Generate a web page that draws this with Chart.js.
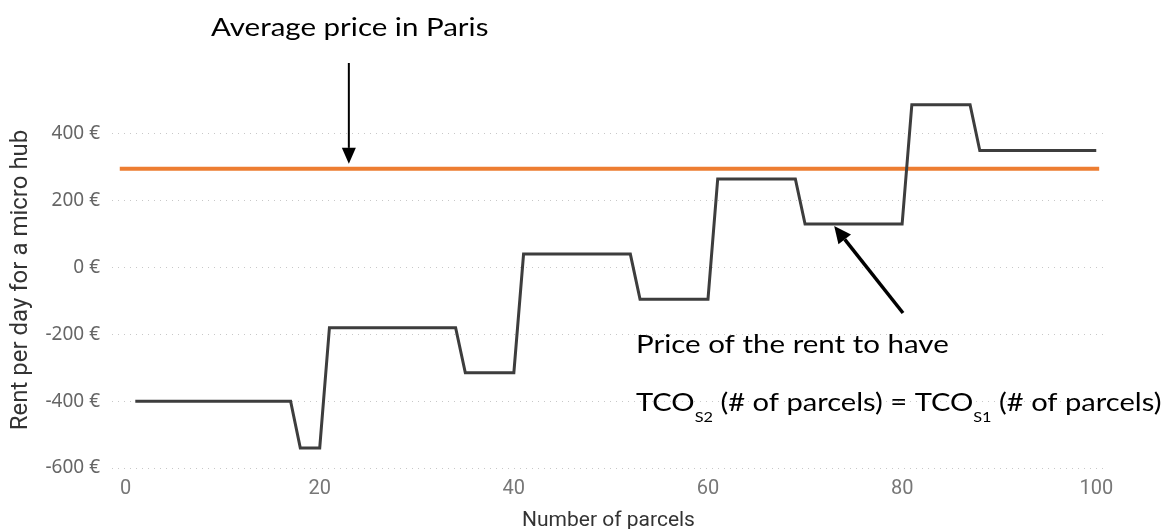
<!DOCTYPE html>
<html>
<head>
<meta charset="utf-8">
<script src="https://cdn.jsdelivr.net/npm/chart.js@4"></script>
<style>
    html, body { margin: 0; padding: 0; background: #ffffff; }
    #wrap { width: 1169px; height: 529px; position: relative; }
</style>
</head>
<body>
<div id="wrap"><canvas id="rentChart"></canvas></div>
<script>
// Break-even rent per number of parcels (step corners)
const parcels = [1, 17, 18, 20, 21, 34, 35, 40, 41, 52, 53, 60, 61, 69, 70, 80, 81, 87, 88, 100];
const rentPerDay = [-400, -400, -540, -540, -180, -180, -315, -315, 40, 40, -95, -95, 265, 265, 130, 130, 487, 487, 350, 350];

// Average rent in Paris, flat over the whole range
const averageRange = [-0.6, 100.3];
const averageParis = 295;

// Axis ticks
const xTicks = [0, 20, 40, 60, 80, 100];
const yTicks = [-600, -400, -200, 0, 200, 400];

const gridStyle = {
    color: '#c8c8c8',
    lineWidth: 1,
    drawTicks: false
};

// callout text is drawn a bit wider than the font's natural width
const TEXT_STRETCH = 1.18;

function drawArrow(ctx, x1, y1, x2, y2, width, headLen, headWidth) {
    const ang = Math.atan2(y2 - y1, x2 - x1);
    const bx = x2 - headLen * Math.cos(ang);
    const by = y2 - headLen * Math.sin(ang);
    ctx.save();
    ctx.strokeStyle = '#000';
    ctx.fillStyle = '#000';
    ctx.lineWidth = width;
    ctx.beginPath();
    ctx.moveTo(x1, y1);
    ctx.lineTo(bx, by);
    ctx.stroke();
    ctx.beginPath();
    ctx.moveTo(x2, y2);
    ctx.lineTo(bx + headWidth / 2 * Math.sin(ang), by - headWidth / 2 * Math.cos(ang));
    ctx.lineTo(bx - headWidth / 2 * Math.sin(ang), by + headWidth / 2 * Math.cos(ang));
    ctx.closePath();
    ctx.fill();
    ctx.restore();
}

// draws one piece of text and returns its (stretched) width
function drawText(ctx, txt, font, x, y, stretch = TEXT_STRETCH) {
    ctx.save();
    ctx.font = font;
    ctx.translate(x, y);
    ctx.scale(stretch, 1);
    ctx.fillText(txt, 0, 0);
    const w = ctx.measureText(txt).width * stretch;
    ctx.restore();
    return w;
}

// Callout texts and arrows
const annotations = {
    id: 'annotations',
    afterDraw(chart) {
        const ctx = chart.ctx;
        const xs = chart.scales.x;
        const ys = chart.scales.y;
        const big = '25px Lato';
        const small = '14px Lato';

        ctx.save();
        ctx.fillStyle = '#000';
        ctx.textBaseline = 'alphabetic';
        ctx.textAlign = 'left';

        drawText(ctx, 'Average price in Paris', big, 211, 36);

        const ax = xs.getPixelForValue(23);
        drawArrow(ctx, ax, 63, ax, ys.getPixelForValue(averageParis) - 5, 2, 16, 14);

        drawArrow(ctx, 903, 313, xs.getPixelForValue(73), ys.getPixelForValue(130) + 2, 3.5, 17, 16);

        drawText(ctx, 'Price of the rent to have', big, 636, 353);

        // TCO_S2 (# of parcels) = TCO_S1 (# of parcels)
        const parts = [
            ['TCO', big, 0],
            ['S2', small, 11],
            [' (# of parcels) = TCO', big, 0],
            ['S1', small, 11],
            [' (# of parcels)', big, 0]
        ];
        let cx = 636;
        parts.forEach(([txt, font, dy]) => {
            cx += drawText(ctx, txt, font, cx, 411 + dy, 1.165);
        });
        ctx.restore();
    }
};

new Chart(document.getElementById('rentChart'), {
    type: 'line',
    data: {
        datasets: [
            {
                label: 'Rent',
                data: parcels.map((p, i) => ({ x: p, y: rentPerDay[i] })),
                borderColor: '#3d3d3d',
                borderWidth: 3,
                borderJoinStyle: 'miter',
                pointRadius: 0,
                tension: 0
            },
            {
                label: 'Average price in Paris',
                data: averageRange.map(p => ({ x: p, y: averageParis })),
                borderColor: '#ed7d31',
                borderWidth: 4,
                pointRadius: 0,
                tension: 0
            }
        ]
    },
    options: {
        responsive: true,
        maintainAspectRatio: false,
        animation: false,
        layout: { padding: { top: 92, right: 64, left: 0, bottom: 0 } },
        plugins: {
            legend: { display: false },
            tooltip: { enabled: false }
        },
        scales: {
            x: {
                type: 'linear',
                min: -1.4,
                max: 100.9,
                border: { display: false },
                grid: { display: false, drawTicks: false },
                afterBuildTicks: axis => { axis.ticks = xTicks.map(v => ({ value: v })); },
                afterFit: axis => { axis.height = 61; },
                ticks: {
                    padding: 9,
                    color: '#777777',
                    font: { family: 'Roboto', size: 20 }
                },
                title: {
                    display: true,
                    text: 'Number of parcels',
                    color: '#333333',
                    font: { family: 'Roboto', size: 21 },
                    padding: { top: 4, bottom: -4 }
                }
            },
            y: {
                min: -600,
                max: 525,
                border: { display: false, dash: [1, 5] },
                grid: gridStyle,
                afterBuildTicks: axis => { axis.ticks = yTicks.map(v => ({ value: v })); },
                afterFit: axis => { axis.width = 112; },
                ticks: {
                    padding: 12,
                    color: '#666666',
                    font: { family: 'Noto Sans', size: 19 },
                    callback: v => v + ' €'
                },
                title: {
                    display: true,
                    text: 'Rent per day for a micro hub',
                    color: '#333333',
                    font: { family: 'Roboto', size: 24 },
                    padding: { top: 7, bottom: 0 }
                }
            }
        }
    },
    plugins: [annotations]
});
</script>
</body>
</html>
